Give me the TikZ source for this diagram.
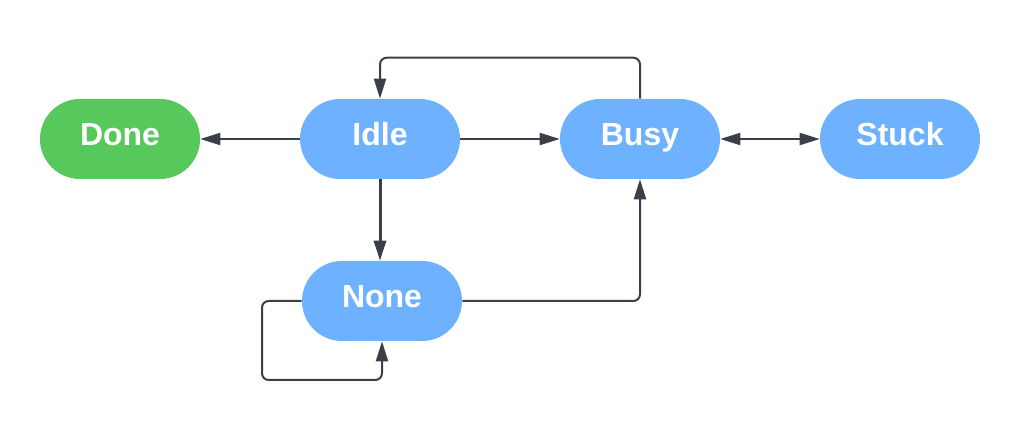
\documentclass[tikz,border=0pt]{standalone}
\usepackage{fontspec}
\setmainfont{Liberation Sans}
\usetikzlibrary{arrows.meta}
\definecolor{stateblue}{RGB}{110,178,255}
\definecolor{stategreen}{RGB}{87,200,92}
\definecolor{linegray}{RGB}{58,63,72}
\begin{document}
\begin{tikzpicture}[x=0.75pt,y=0.75pt,yscale=-1,xscale=1,
  state/.style={fill=stateblue, draw=none, rounded corners=30pt, minimum width=120pt, minimum height=60pt, inner sep=0pt, text height=17.25pt, text depth=6.75pt, text=white, font=\fontsize{24}{28}\selectfont\bfseries},
  tip/.tip={Triangle[length=15pt,width=9pt]},
  link/.style={draw=linegray, line width=1.5pt, rounded corners=5pt, -tip}]
%set diagram size
\path[use as bounding box] (0,0) rectangle (1036,441);

%States
\node[state, fill=stategreen] (done) at (120,139) {Done};
\node[state] (idle) at (380,139) {Idle};
\node[state] (busy) at (640,139) {Busy};
\node[state] (stuck) at (900,139) {Stuck};
\node[state] (none) at (382,301) {None};
\coordinate (loop) at (262,380);

%Transitions
\draw[link] (idle) -- (done);
\draw[link] (idle) -- (busy);
\draw[link, tip-tip] (busy) -- (stuck);
\draw[link] (busy.north) -- ++(0,-41) -| (idle.north);
\draw[link, line width=2.25pt] (idle.south) -- (idle.south |- none.north);
\draw[link] (none.east) -| (busy.south);
\draw[link] (none.west) -| (loop) -| (none.south);

\end{tikzpicture}
\end{document}
